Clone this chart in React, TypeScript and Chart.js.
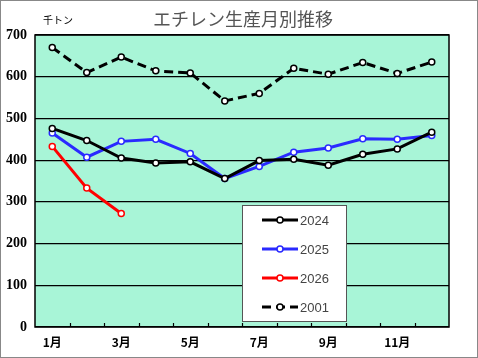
import React, { useEffect, useRef } from "react";
import { Chart, registerables } from "chart.js";

Chart.register(...registerables);

const months = ["1月", "2月", "3月", "4月", "5月", "6月", "7月", "8月", "9月", "10月", "11月", "12月"];
const s2024 = [476, 447, 405, 393, 396, 356, 399, 402, 388, 414, 427, 467];
const s2025 = [465, 407, 445, 450, 416, 356, 385, 419, 429, 451, 450, 459];
const s2026 = [433, 333, 272, null, null, null, null, null, null, null, null, null];
const s2001 = [670, 610, 647, 614, 609, 542, 560, 620, 606, 634, 608, 635];
const yTicks = [0, 100, 200, 300, 400, 500, 600, 700];
const titleText = "エチレン生産月別推移";
const unitText = "千トン";

const PLOT_BG = "rgb(168, 245, 215)";

const decorPlugin = {
  id: "decor",
  beforeDraw(chart: any) {
    const { ctx, chartArea } = chart;
    ctx.save();
    ctx.fillStyle = "#ffffff";
    ctx.fillRect(0, 0, chart.width, chart.height);
    ctx.fillStyle = PLOT_BG;
    ctx.fillRect(chartArea.left, chartArea.top, chartArea.right - chartArea.left, chartArea.bottom - chartArea.top);
    ctx.restore();
  },
  afterDraw(chart: any) {
    const { ctx, chartArea } = chart;
    const xs = chart.scales.x;
    ctx.save();
    // plot border
    ctx.strokeStyle = "#000";
    ctx.lineWidth = 1.5;
    ctx.strokeRect(chartArea.left, chartArea.top, chartArea.right - chartArea.left, chartArea.bottom - chartArea.top);
    // inward ticks at category boundaries
    ctx.lineWidth = 1.2;
    for (let i = 1; i < months.length; i++) {
      const x = (xs.getPixelForValue(i - 1) + xs.getPixelForValue(i)) / 2;
      ctx.beginPath();
      ctx.moveTo(Math.round(x) + 0.5, chartArea.bottom);
      ctx.lineTo(Math.round(x) + 0.5, chartArea.bottom - 4);
      ctx.stroke();
    }
    // title
    ctx.fillStyle = "#555";
    ctx.font = "18px 'Noto Sans CJK JP'";
    ctx.textAlign = "center";
    ctx.textBaseline = "middle";
    ctx.fillText(titleText, 243, 19);
    ctx.fillStyle = "#000";
    ctx.font = "10px 'Noto Sans CJK JP'";
    ctx.textAlign = "left";
    ctx.fillText(unitText, 43, 20);
    // legend
    const bx = 242, by = 205, bw = 104, bh = 116;
    ctx.fillStyle = "#fff";
    ctx.fillRect(bx, by, bw, bh);
    ctx.strokeStyle = "#555";
    ctx.lineWidth = 1;
    ctx.strokeRect(bx + 0.5, by + 0.5, bw, bh);
    const rows = [220, 249, 278, 307];
    chart.data.datasets.forEach((ds: any, i: number) => {
      const y = rows[i];
      ctx.strokeStyle = ds.borderColor;
      ctx.lineWidth = 3;
      ctx.setLineDash(ds.borderDash || []);
      ctx.beginPath();
      ctx.moveTo(262, y);
      ctx.lineTo(298, y);
      ctx.stroke();
      ctx.setLineDash([]);
      ctx.fillStyle = "#fff";
      ctx.lineWidth = 1.5;
      ctx.beginPath();
      ctx.arc(280, y, 3, 0, Math.PI * 2);
      ctx.fill();
      ctx.stroke();
      ctx.fillStyle = "#444";
      ctx.font = "13px 'Liberation Sans'";
      ctx.textAlign = "left";
      ctx.textBaseline = "middle";
      ctx.fillText(ds.label, 300, y + 1);
    });
    // outer border
    ctx.strokeStyle = "#888";
    ctx.lineWidth = 1;
    ctx.strokeRect(0.5, 0.5, chart.width - 1, chart.height - 1);
    ctx.restore();
  },
};

export default function App() {
  const ref = useRef<HTMLCanvasElement>(null);
  useEffect(() => {
    document.body.style.margin = "0";
    const mk = (label: string, data: any[], color: string, dash?: number[]) => ({
      label,
      data,
      borderColor: color,
      backgroundColor: "#fff",
      borderWidth: 3,
      borderDash: dash,
      pointRadius: 3,
      pointBorderWidth: 1.5,
      pointBackgroundColor: "#fff",
      pointBorderColor: color,
      tension: 0,
      spanGaps: false,
    });
    const chart = new Chart(ref.current!, {
      type: "line",
      data: {
        labels: months,
        datasets: [
          mk("2024", s2024, "#000000"),
          mk("2025", s2025, "#2a2aff"),
          mk("2026", s2026, "#ff0000"),
          mk("2001", s2001, "#000000", [9, 5]),
        ],
      },
      options: {
        animation: false,
        responsive: false,
        devicePixelRatio: 1,
        layout: { padding: { left: 0, top: 35, right: 29, bottom: 0 } },
        plugins: { legend: { display: false }, title: { display: false }, tooltip: { enabled: false } },
        scales: {
          x: {
            offset: true,
            grid: { display: false, drawTicks: false },
            border: { display: false },
            ticks: {
              autoSkip: false,
              maxRotation: 0,
              padding: 8,
              color: "#000",
              font: { family: "'Noto Sans CJK JP'", size: 12, weight: "bold" },
              callback: (_v: any, i: number) => (i % 2 === 0 ? months[i] : ""),
            },
            afterFit: (s: any) => { s.height = 31; },
          },
          y: {
            min: 0,
            max: 700,
            afterBuildTicks: (s: any) => { s.ticks = yTicks.map((v) => ({ value: v })); },
            grid: { color: "#000", lineWidth: 1.2, drawTicks: false },
            border: { display: false },
            ticks: {
              padding: 8,
              color: "#000",
              font: { family: "'Liberation Serif'", size: 14, weight: "bold" },
            },
            afterFit: (s: any) => { s.width = 35; },
          },
        },
      },
      plugins: [decorPlugin],
    });
    return () => chart.destroy();
  }, []);
  return <canvas ref={ref} width={478} height={358} style={{ display: "block" }} />;
}
